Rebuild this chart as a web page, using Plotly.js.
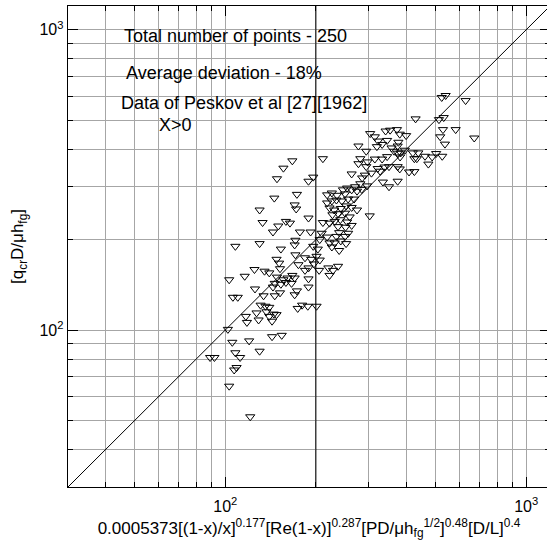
<!DOCTYPE html>
<html>
<head>
<meta charset="utf-8">
<script src="https://cdn.plot.ly/plotly-3.0.1.min.js"></script>
<style>
html,body{margin:0;padding:0;overflow:hidden;background:#fff;}
#chart{width:552px;height:544px;}
</style>
</head>
<body>
<div id="chart"></div>
<script>
// Data (x: correlation group, y: qcr D / mu h_fg)
const xVals = [
167,156,148.5,145.5,173,170,172,130,133,150,159,164,144,171,170,108,130,153,148,151,152,171,175,103,116,125,135,140,148.5,156,161,167,170,146,153,159,166,144,125.5,134,146,152,170,173,106,110,131,136,140,127,137,145,140,148,174,117,118,129,143,102,143,154,105.5,120,130,108,112,89,92,109,107,103,121,
303,314,322,341,353,372,345,332,319,357,364,374,277,294,211,281,297,314,332,345,277,294,321,338,350,374,263,291,285,306,327,189,196,281,270,296,334,350,374,246,254,263,274,284,218,226,235,250,218,226,234,244,256,268,222,230,242,252,263,274,227,237,250,259,302,189,211,222,231,241,254,237,251,263,177,192,209,239,256,218,234,250,206,222,231,242,252,196,203,239,226,184,193,201,206,197,189,205,220,228,237,222,184,189,189,180,188,201,
524,540,629,429,513,532,529,583,518,537,672,380,399,376,374,395,383,420,438,461,487,502,526,425,433,473,381,380,408,425
];
const yVals = [
366,346,319,275,283,261,253,251,228,222,230,227,212,199,192,190,194,186,172,167,160,178,165,147,151,159,157,155,150,147,149,152,149,143,142,144,143,139,137,130,130,133,131,135,128.5,128.5,121,120,119,114,115,113,111,112.5,118,111,106,108,107,100.5,95,96,91,92,85,84,81,81,81,75,73.6,65,51.4,
451,440,426,460,463,465,428,415,408,404,394,388,410,394,372,372,363,371,371,378,358,350,345,349,350,350,331,328,321,333,338,313,323,307,300,302,311,300,313,293,297,293,290,294,282,286,281,284,265,269,271,269,273,273,255,251,254,259,256,251,242,244,245,238,240,236,228,227,230,233,229,221,220,223,212,212,210,211,210,204,205,205,200,195,195,198,194,190,186,184,189,174,172,176,171,166,161,158,161,158,163,152,158,148,139,121,120,120,
595,604,581,505,502,510,465,465,440,416,436,449,444,422,410,397,389,389,389,379,377,387,379,372,372,357,377,344,336,337
];
// Reference line y = x over the axis range
const lineVals = [30, 1200];
const axisRange = [30, 1200];
const majorTicks = [100, 1000];
const majorTickText = ['10<sup>2</sup>', '10<sup>3</sup>'];
const minorTicks = [40,50,60,70,80,90,200,300,400,500,600,700,800,900];
const darkGridX = 200;
const notes = [
  'Total number of points - 250',
  'Average deviation - 18%',
  'Data of Peskov et al [27][1962]',
  'X>0'
];
const xTitle = '0.0005373[(1-x)/x]<sup>0.177</sup>[Re(1-x)]<sup>0.287</sup>[PD/\u03bch<sub>fg</sub><sup>1/2</sup>]<sup>0.48</sup>[D/L]<sup>0.4</sup>';
const yTitle = '[q<sub>cr</sub>D/\u03bch<sub>fg</sub>]';

const FONT = '"Liberation Sans", Arial, Helvetica, sans-serif';
const GRID = '#a6a6a6';

function axis(title) {
  return {
    type: 'log',
    range: axisRange.map(v => Math.log10(v)),
    tickmode: 'array',
    tickvals: majorTicks,
    ticktext: majorTickText,
    ticks: 'inside',
    ticklen: 10,
    tickwidth: 1,
    tickcolor: '#000',
    showgrid: true,
    gridcolor: GRID,
    gridwidth: 1,
    minor: {
      tickmode: 'array',
      tickvals: minorTicks,
      ticks: 'inside',
      ticklen: 5,
      tickwidth: 1,
      tickcolor: '#000',
      showgrid: true,
      gridcolor: GRID,
      gridwidth: 1
    },
    showline: true,
    linecolor: '#000',
    linewidth: 1.3,
    mirror: 'allticks',
    zeroline: false,
    tickfont: {family: FONT, size: 16, color: '#000'},
    title: {text: title, font: {family: FONT, size: 17, color: '#000'}},
    automargin: false
  };
}

const traces = [
  {
    x: lineVals, y: lineVals, mode: 'lines', type: 'scatter',
    line: {color: '#000', width: 1}, hoverinfo: 'skip', showlegend: false
  },
  {
    x: xVals, y: yVals, mode: 'markers', type: 'scatter',
    marker: {symbol: 'triangle-down-open', size: 8, color: '#000', line: {width: 1, color: '#000'}},
    showlegend: false
  }
];

const xa = axis(xTitle);
xa.ticklabelstandoff = 4;
xa.title.standoff = 8;
const ya = axis(yTitle);
ya.title.standoff = 11;

const annPos = [[0.112, 0.9376], [0.116, 0.8607], [0.1058, 0.7973], [0.184, 0.7526]];
const annotations = notes.map((t, i) => ({
  text: t, xref: 'paper', yref: 'paper', x: annPos[i][0], y: annPos[i][1],
  xanchor: 'left', yanchor: 'middle', showarrow: false,
  font: {family: FONT, size: 18, color: '#000'}
}));

const layout = {
  width: 552, height: 544,
  margin: {l: 68, r: 2, t: 6, b: 57, pad: 0},
  paper_bgcolor: '#fff', plot_bgcolor: '#fff',
  xaxis: xa, yaxis: ya,
  showlegend: false,
  annotations: annotations,
  shapes: [{
    type: 'line', xref: 'x', yref: 'paper', x0: darkGridX, x1: darkGridX, y0: 0, y1: 1,
    line: {color: '#000', width: 1}, layer: 'above'
  }],
  font: {family: FONT, color: '#000'}
};

Plotly.newPlot('chart', traces, layout, {displayModeBar: false, staticPlot: true});
</script>
</body>
</html>
